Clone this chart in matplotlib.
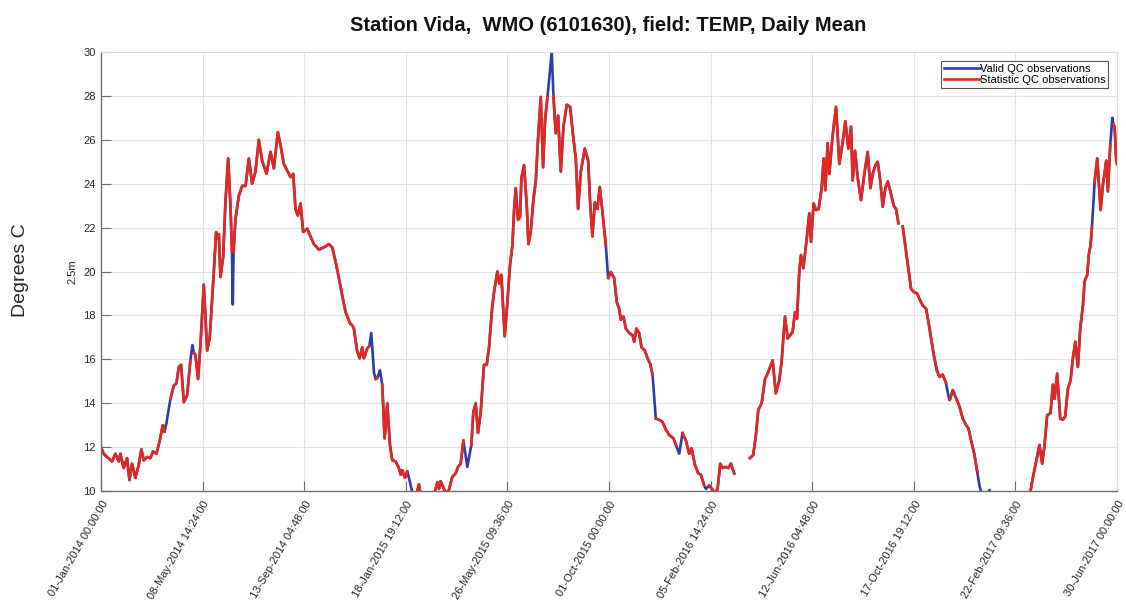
import matplotlib
matplotlib.use("Agg")
import matplotlib.pyplot as plt
import numpy as np
import pandas as pd

# daily mean temperature at 2.5 m
# obs_day: days since 01-Jan-2014 00:00
obs_day = [
    0, 3.4, 7.6, 13.9, 18.1, 22.3, 24.3, 28.5, 32.7, 35.7, 39.0, 43.2, 47.4, 50.7,
    53.7, 57.9, 62.0, 65.4, 69.6, 73.8, 77.6, 79.7, 82.2, 85.0, 87.2, 91.4, 94.7,
    97.7, 100.6, 104.0, 108.1, 112.3, 114.8, 116.5, 118.6, 121.9, 124.9, 129.1,
    133.3, 136.6, 141.7, 144.6, 146.5, 148.0, 150.0, 153.4, 156.3, 159.7, 162.6,
    164.5, 165.5, 166.5, 168.9, 173.1, 177.3, 181.5, 185.7, 189.8, 194.0, 198.2,
    202.4, 207.9, 212.9, 217.1, 222.1, 225.5, 229.6, 233.8, 238.0, 241.4, 244.3,
    247.2, 250.6, 253.9, 259.0, 263.2, 267.3, 273.6, 280.0, 286.2, 290.4, 294.6,
    298.8, 303.0, 307.2, 312.6, 315.5, 317.6, 321.8, 324.8, 328.1, 330.2, 334.4,
    337.0, 339.4, 341.2, 342.8, 345.0, 347.0, 350.3, 353.2, 356.2, 359.5, 362.9,
    365.8, 370.0, 374.2, 376.3, 378.4, 381.7, 384.7, 388.0, 391.0, 394.0, 399.3,
    402.0, 410.0, 414.0, 418.0, 422.4, 424.5, 426.6, 432.9, 437.0, 441.2, 445.4,
    448.4, 451.7, 455.1, 460.1, 465.1, 467.6, 470.6, 473.5, 476.9, 481.0, 484.4,
    487.3, 491.5, 493.6, 497.8, 500.3, 502.8, 507.0, 510.4, 513.7, 516.7, 518.8,
    520.9, 523.8, 526.3, 528.0, 531.3, 534.7, 536.8, 539.7, 543.1, 546.0, 548.9,
    552.3, 555.2, 557.7, 560.7, 566.1, 568.2, 571.1, 574.1, 577.4, 580.8, 585.0,
    589.2, 593.3, 596.3, 599.2, 602.6, 607.6, 611.8, 614.3, 617.2, 620.2, 623.5,
    626.4, 629.8, 634.0, 635.5, 636.9, 640.3, 644.5, 647.8, 650.8, 652.9, 656.2,
    659.1, 663.3, 667.5, 669.6, 672.5, 675.9, 678.8, 683.0, 686.4, 689.7, 692.7,
    694.7, 696.8, 701.0, 705.2, 709.4, 713.6, 719.1, 722.0, 726.2, 730.4, 734.6,
    738.7, 741.7, 745.9, 750.1, 753.4, 757.6, 759.7, 763.9, 768.1, 771.0, 774.4,
    777.7, 780.6, 784.8, 787.8, 791.1, 795.3, 805.0, 815.0, 819.2, 822.5, 825.5,
    829.7, 833.9, 837.2, 843.5, 847.5, 851.9, 854.8, 859.0, 862.4, 865.7, 868.6,
    871.6, 874.1, 877.0, 879.1, 882.1, 885.4, 889.6, 891.7, 895.0, 898.0, 901.3,
    905.1, 907.6, 909.7, 912.6, 914.7, 918.9, 923.1, 927.3, 931.5, 934.8, 938.6,
    942.0, 944.0, 947.0, 950.4, 954.5, 958.7, 962.9, 966.3, 969.2, 972.6, 975.5,
    978.8, 981.8, 985.1, 988.1, 991.4, 995.6, 998.5, 1001.5, 1004.0, 1006.9,
    1011.1, 1014.5, 1017.4, 1021.6, 1025.0, 1027.9, 1032.1, 1036.3, 1039.2,
    1042.5, 1045.9, 1049.7, 1053.0, 1057.0, 1061.0, 1064.5, 1066.0, 1069.8,
    1074.0, 1078.2, 1082.3, 1086.5, 1089.5, 1092.8, 1097.0, 1100.4, 1103.3,
    1105.4, 1110.0, 1115.9, 1120.0, 1140.0, 1160.0, 1167.4, 1170.3, 1174.5,
    1178.7, 1182.0, 1185.0, 1188.3, 1192.5, 1195.5, 1197.6, 1200.9, 1204.7,
    1208.0, 1211.0, 1214.3, 1217.7, 1220.6, 1223.6, 1226.9, 1229.8, 1233.2,
    1235.3, 1238.6, 1240.7, 1242.8, 1244.5, 1246.2, 1247.9, 1251.2, 1253.3,
    1255.4, 1258.3, 1262.5, 1264.6, 1267.5, 1270.1, 1271.5, 1273.0, 1275.1, 1276.0,
]

valid_temp = [
    12.0, 11.7, 11.55, 11.35, 11.7, 11.35, 11.7, 11.05, 11.5, 10.5, 11.25, 10.6, 11.2, 11.9,
    11.4, 11.55, 11.5, 11.8, 11.7, 12.3, 13.0, 12.7, 13.1, 13.7, 14.2, 14.8, 14.9,
    15.65, 15.75, 14.05, 14.35, 15.95, 16.65, 16.3, 16.2, 15.1, 16.65, 19.4,
    16.4, 17.0, 20.0, 21.8, 21.5, 21.7, 19.75, 20.65, 23.15, 25.15, 23.0,
    20.9, 18.5, 20.9, 22.4, 23.45, 23.9, 23.9, 25.15, 24.0, 24.55, 26.0,
    25.05, 24.45, 25.45, 24.7, 26.35, 25.75, 24.9, 24.6, 24.3, 24.45, 22.85,
    22.55, 23.1, 21.8, 21.95, 21.6, 21.25, 21.0, 21.1, 21.25, 21.1, 20.45,
    19.7, 18.9, 18.15, 17.65, 17.55, 17.4, 16.35, 16.05, 16.55, 16.05, 16.5,
    16.6, 17.2, 16.3, 15.4, 15.1, 15.15, 15.5, 14.85, 12.4, 14.0, 12.1,
    11.4, 11.35, 11.05, 10.75, 10.95, 10.6, 10.9, 10.4, 9.95, 9.6, 10.3,
    9.7, 9.9, 9.6, 9.8, 10.4, 10.1, 10.45, 9.9, 10.05, 10.65, 10.8,
    11.1, 11.25, 12.3, 11.1, 12.1, 13.6, 14.0, 12.65, 13.6, 15.75, 15.75,
    16.55, 18.45, 19.05, 20.0, 19.45, 19.85, 17.05, 18.6, 20.3, 21.2, 22.8,
    23.8, 22.35, 22.5, 24.25, 24.85, 23.0, 21.25, 21.8, 23.3, 24.1, 26.05,
    27.95, 24.75, 26.9, 27.95, 30.0, 28.0, 26.3, 27.1, 24.55, 26.6, 27.6,
    27.5, 26.05, 25.15, 22.85, 24.55, 25.6, 25.05, 23.15, 21.6, 23.15, 22.85,
    23.85, 22.7, 21.2, 20.4, 19.7, 19.98, 19.7, 18.6, 18.3, 17.8, 17.95,
    17.4, 17.2, 17.1, 16.8, 17.4, 17.2, 16.55, 16.4, 16.05, 15.8, 15.3,
    14.3, 13.3, 13.25, 13.15, 12.8, 12.55, 12.4, 12.1, 11.7, 12.65, 12.3,
    11.7, 11.95, 11.2, 10.8, 10.75, 10.25, 10.1, 10.25, 10.05, 9.9, 10.1,
    11.25, 11.05, 11.1, 11.05, 11.25, 10.8, np.nan, 11.5, 11.65, 12.55, 13.7,
    14.0, 15.1, 15.35, 15.95, 14.45, 15.05, 15.9, 17.95, 16.95, 17.1, 17.25,
    18.15, 17.85, 20.0, 20.75, 20.15, 21.2, 22.65, 21.35, 23.1, 22.8, 22.85,
    23.8, 25.15, 23.7, 25.85, 24.45, 26.2, 27.5, 24.9, 25.9, 26.85, 25.6,
    26.6, 24.15, 25.5, 24.25, 23.25, 24.45, 25.45, 23.8, 24.45, 24.85, 25.0,
    24.1, 22.95, 23.8, 24.1, 23.65, 23.0, 22.85, 22.2, np.nan, 22.05,
    20.9, 20.0, 19.2, 19.05, 19.0, 18.75, 18.45, 18.3, 17.7,
    16.95, 16.2, 15.5, 15.2, 15.3, 14.95, 14.3, 14.15, 14.6,
    14.22, 13.85, 13.3, 13.0, 12.85, 12.3, 11.65, 10.9, 10.25,
    9.95, 9.7, 10.05, 9.7, 9.4, 9.5, 10.0, 10.6, 11.35,
    12.1, 11.25, 12.1, 13.45, 13.55, 14.85, 14.2, 15.35, 13.3,
    13.25, 13.4, 14.65, 15.05, 16.05, 16.8, 15.65, 17.4, 18.45,
    19.55, 19.85, 20.8, 21.2, 22.0, 23.0, 24.1, 25.15, 23.95,
    22.8, 23.95, 25.05, 23.65, 25.75, 27.0, 26.7, 26.6, 25.05, 24.9,
]

# days where the statistic QC series has no value (valid QC line shows through)
stat_flagged_days = [82.2, 85.0, 114.8, 165.5, 339.4, 342.8, 350.3, 388.0, 391.0,
                     460.1, 566.1, 635.5, 694.7, 726.2, 759.7, 1064.5, 1103.3,
                     1105.4, 1115.9, 1246.2, 1270.1]

tick_labels = [
    "01-Jan-2014 00:00:00", "08-May-2014 14:24:00", "13-Sep-2014 04:48:00",
    "18-Jan-2015 19:12:00", "26-May-2015 09:36:00", "01-Oct-2015 00:00:00",
    "05-Feb-2016 14:24:00", "12-Jun-2016 04:48:00", "17-Oct-2016 19:12:00",
    "22-Feb-2017 09:36:00", "30-Jun-2017 00:00:00",
]
y_ticks = [10, 12, 14, 16, 18, 20, 22, 24, 26, 28, 30]

BLUE = "#2a3cae"
RED = "#e4281f"

start = pd.Timestamp("2014-01-01")
dates = (start + pd.to_timedelta(obs_day, unit="D")).values
valid = np.array(valid_temp, dtype=float)
stat = valid.copy()
stat[np.isin(obs_day, stat_flagged_days)] = np.nan
tick_pos = pd.to_datetime(tick_labels, format="%d-%b-%Y %H:%M:%S").values

plt.rcParams["font.family"] = ["Liberation Sans", "DejaVu Sans"]

fig = plt.figure(figsize=(11.26, 6.10), dpi=100)
ax = fig.add_axes([0.0897, 0.195, 0.9023, 0.7198])

ax.plot(dates, valid, color=BLUE, lw=1.9, label="Valid QC observations")
ax.plot(dates, stat, color=RED, lw=1.9, label="Statistic QC observations")

ax.set_xlim(tick_pos[0], tick_pos[-1])
ax.set_ylim(10, 30)
ax.set_xticks(tick_pos)
ax.set_xticklabels(tick_labels, rotation=60, ha="right", rotation_mode="anchor",
                   fontsize=8, color="#262626")
ax.set_yticks(y_ticks)
ax.set_yticklabels([str(v) for v in y_ticks], fontsize=8, color="#262626")
ax.tick_params(direction="in", length=7, width=0.8, color="#6e6e6e", pad=4)
ax.tick_params(axis="x", pad=6)
ax.grid(True, color="#e3e3e3", lw=0.8)
ax.set_axisbelow(True)

for side in ["left", "bottom"]:
    ax.spines[side].set_color("#6e6e6e")
    ax.spines[side].set_linewidth(1.0)
for side in ["top", "right"]:
    ax.spines[side].set_color("#dcdcdc")
    ax.spines[side].set_linewidth(0.8)

ax.set_ylabel("2.5m", fontsize=8, color="#262626", labelpad=4)
fig.text(0.018, 0.557, "Degrees C", rotation=90, fontsize=14, ha="center", va="center",
         color="#262626")
fig.text(0.540, 0.958, "Station Vida,  WMO (6101630), field: TEMP, Daily Mean",
         fontsize=14.5, fontweight="bold", ha="center", va="center", color="#111111")

leg = ax.legend(loc="upper right", fontsize=8, handlelength=3.2, handletextpad=0.0,
                borderpad=0.25, labelspacing=0.1, fancybox=False, framealpha=1,
                borderaxespad=0.8)
leg.get_frame().set_edgecolor("#555555")
leg.get_frame().set_linewidth(0.8)

fig.savefig("out.png", dpi=100)
